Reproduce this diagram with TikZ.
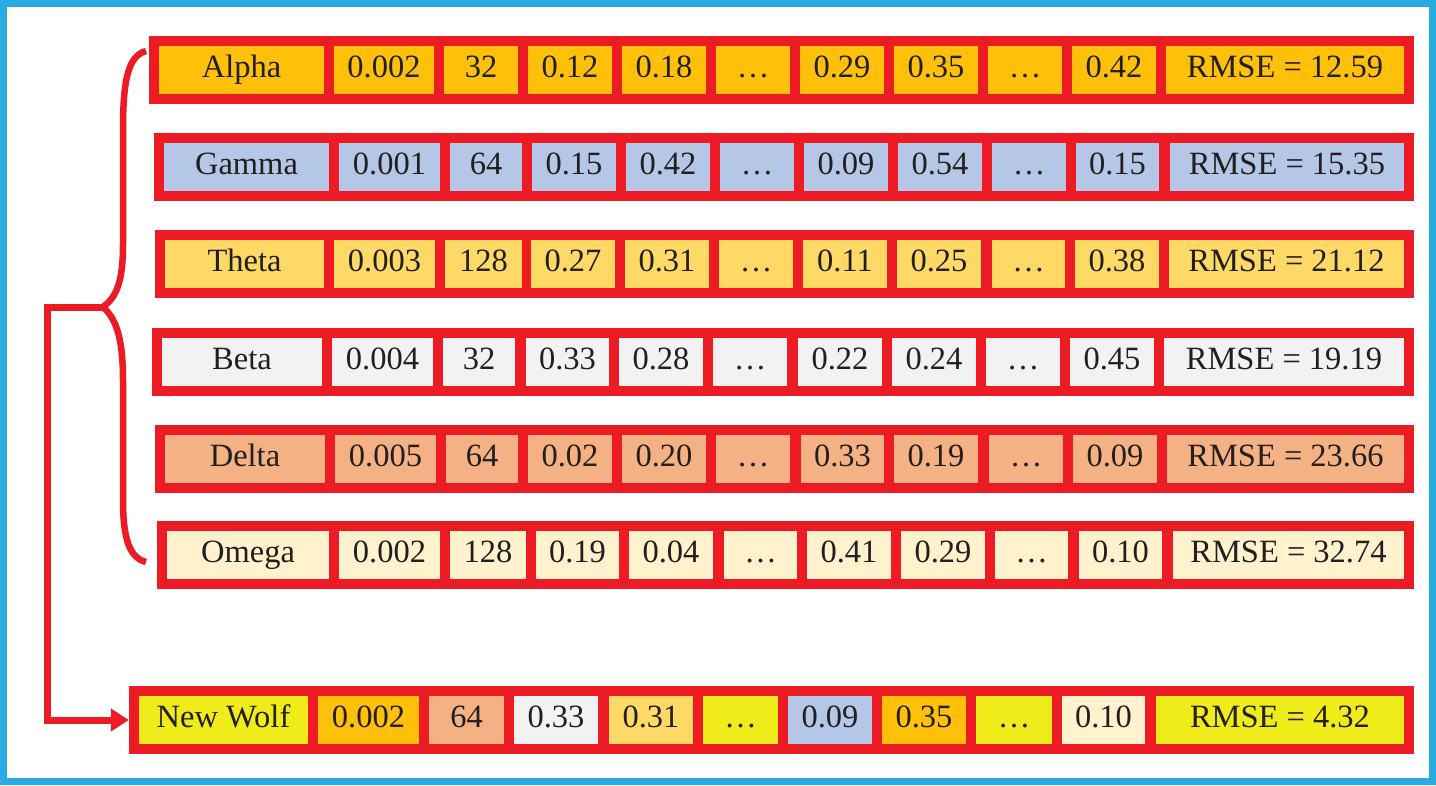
\documentclass[tikz,border=0pt]{standalone}
\usepackage{fontspec}
\setmainfont{Liberation Serif}
\usetikzlibrary{arrows.meta}
\definecolor{wred}{HTML}{ED1C24}
\definecolor{wblue}{HTML}{29ABE2}
\definecolor{txt}{HTML}{231F20}
\definecolor{calpha}{RGB}{255,192,10}
\definecolor{cgamma}{HTML}{B4C7E7}
\definecolor{ctheta}{HTML}{FFD966}
\definecolor{cbeta}{HTML}{F2F2F2}
\definecolor{cdelta}{HTML}{F4B183}
\definecolor{comega}{HTML}{FFF2CC}
\definecolor{cnew}{RGB}{240,236,25}
\tikzset{
  rowbox/.style={rectangle, fill=wred, draw=none, inner sep=0pt},
  cellbox/.style={rectangle, draw=none, inner sep=0pt, text height=22pt, text depth=8pt,
    font=\fontsize{32.5}{38}\selectfont, text=txt},
  bracestyle/.style={draw=wred, line width=6.5pt},
  connstyle/.style={draw=wred, line width=7pt, -{Triangle[length=18pt,width=22pt]}},
  framestyle/.style={draw=wblue, line width=7pt},
}
\newcommand\mkrow[5]{%
  \pgfmathsetmacro\myrw{1414-#2}%
  \pgfmathsetmacro\myrh{#4-#3}%
  \pgfmathsetmacro\mych{#4-#3-20}%
  \node[rowbox, minimum width=\myrw pt, minimum height=\myrh pt] (#1) at ({(#2+1414)/2},{(#3+#4)/2}) {};
  \foreach \xl/\xr/\fc/\tx [count=\i] in {#5} {
    \pgfmathsetmacro\mycw{\xr-\xl}
    \node[cellbox, fill=\fc, minimum width=\mycw pt, minimum height=\mych pt] (#1c\i) at ({(\xl+\xr)/2},{(#3+#4)/2}) {\tx};
  }%
}
\begin{document}
\begin{tikzpicture}[x=1pt, y=-1pt]
\useasboundingbox (0,0) rectangle (1436,785);
\fill[white] (0,0) rectangle (1436,785);
\draw[framestyle] (3.5,3.5) rectangle (1432.5,781.5);

\mkrow{row1}{149}{36}{104}{159/324/calpha/Alpha, 334/434/calpha/0.002, 444/518/calpha/32, 528/612/calpha/0.12, 622/706/calpha/0.18, 716/790/calpha/…, 800/884/calpha/0.29, 894/978/calpha/0.35, 988/1062/calpha/…, 1072/1156/calpha/0.42, 1166/1404/calpha/RMSE = 12.59}
\mkrow{row2}{154}{133}{201}{164/329/cgamma/Gamma, 339/440/cgamma/0.001, 450/522/cgamma/64, 532/616/cgamma/0.15, 626/710/cgamma/0.42, 720/794/cgamma/…, 804/888/cgamma/0.09, 898/982/cgamma/0.54, 992/1066/cgamma/…, 1076/1159/cgamma/0.15, 1170/1404/cgamma/RMSE = 15.35}
\mkrow{row3}{155}{230}{298}{165/324/ctheta/Theta, 334/435/ctheta/0.003, 445/522/ctheta/128, 531/615/ctheta/0.27, 625/709/ctheta/0.31, 719/793/ctheta/…, 803/887/ctheta/0.11, 897/981/ctheta/0.25, 992/1065/ctheta/…, 1075/1159/ctheta/0.38, 1169/1404/ctheta/RMSE = 21.12}
\mkrow{row4}{152}{328}{396}{162/322/cbeta/Beta, 332/433/cbeta/0.004, 443/515/cbeta/32, 526/609/cbeta/0.33, 619/703/cbeta/0.28, 713/787/cbeta/…, 798/882/cbeta/0.22, 892/976/cbeta/0.24, 986/1060/cbeta/…, 1070/1154/cbeta/0.45, 1164/1404/cbeta/RMSE = 19.19}
\mkrow{row5}{155}{425}{493}{165/325/cdelta/Delta, 335/436/cdelta/0.005, 446/518/cdelta/64, 528/612/cdelta/0.02, 622/706/cdelta/0.20, 716/790/cdelta/…, 801/884/cdelta/0.33, 894/978/cdelta/0.19, 989/1063/cdelta/…, 1073/1157/cdelta/0.09, 1167/1404/cdelta/RMSE = 23.66}
\mkrow{row6}{157}{521}{589}{167/329/comega/Omega, 339/440/comega/0.002, 450/526/comega/128, 536/619/comega/0.19, 629/713/comega/0.04, 724/797/comega/…, 807/891/comega/0.41, 901/985/comega/0.29, 995/1068/comega/…, 1079/1162/comega/0.10, 1173/1404/comega/RMSE = 32.74}
\mkrow{row7}{129}{686}{754}{139/308/cnew/New Wolf, 318/419/calpha/0.002, 429/504/cdelta/64, 514/598/cbeta/0.33, 609/693/ctheta/0.31, 703/778/cnew/…, 788/872/cgamma/0.09, 882/966/calpha/0.35, 976/1052/cnew/…, 1062/1145/comega/0.10, 1156/1404/cnew/RMSE = 4.32}

\coordinate (btop) at (146,51);
\coordinate (btip) at (103,307);
\coordinate (bbot) at (146,562);
\draw[bracestyle] (btop) .. controls (128,56) and (123,80) .. (123,130) -- (123,245)
  .. controls (123,285) and (115,298) .. (btip)
  .. controls (115,318) and (123,335) .. (123,380) -- (123,500)
  .. controls (123,540) and (130,558) .. (bbot);
\draw[connstyle] (btip) -- ++(-56,0) |- (row7.west);
\end{tikzpicture}
\end{document}
